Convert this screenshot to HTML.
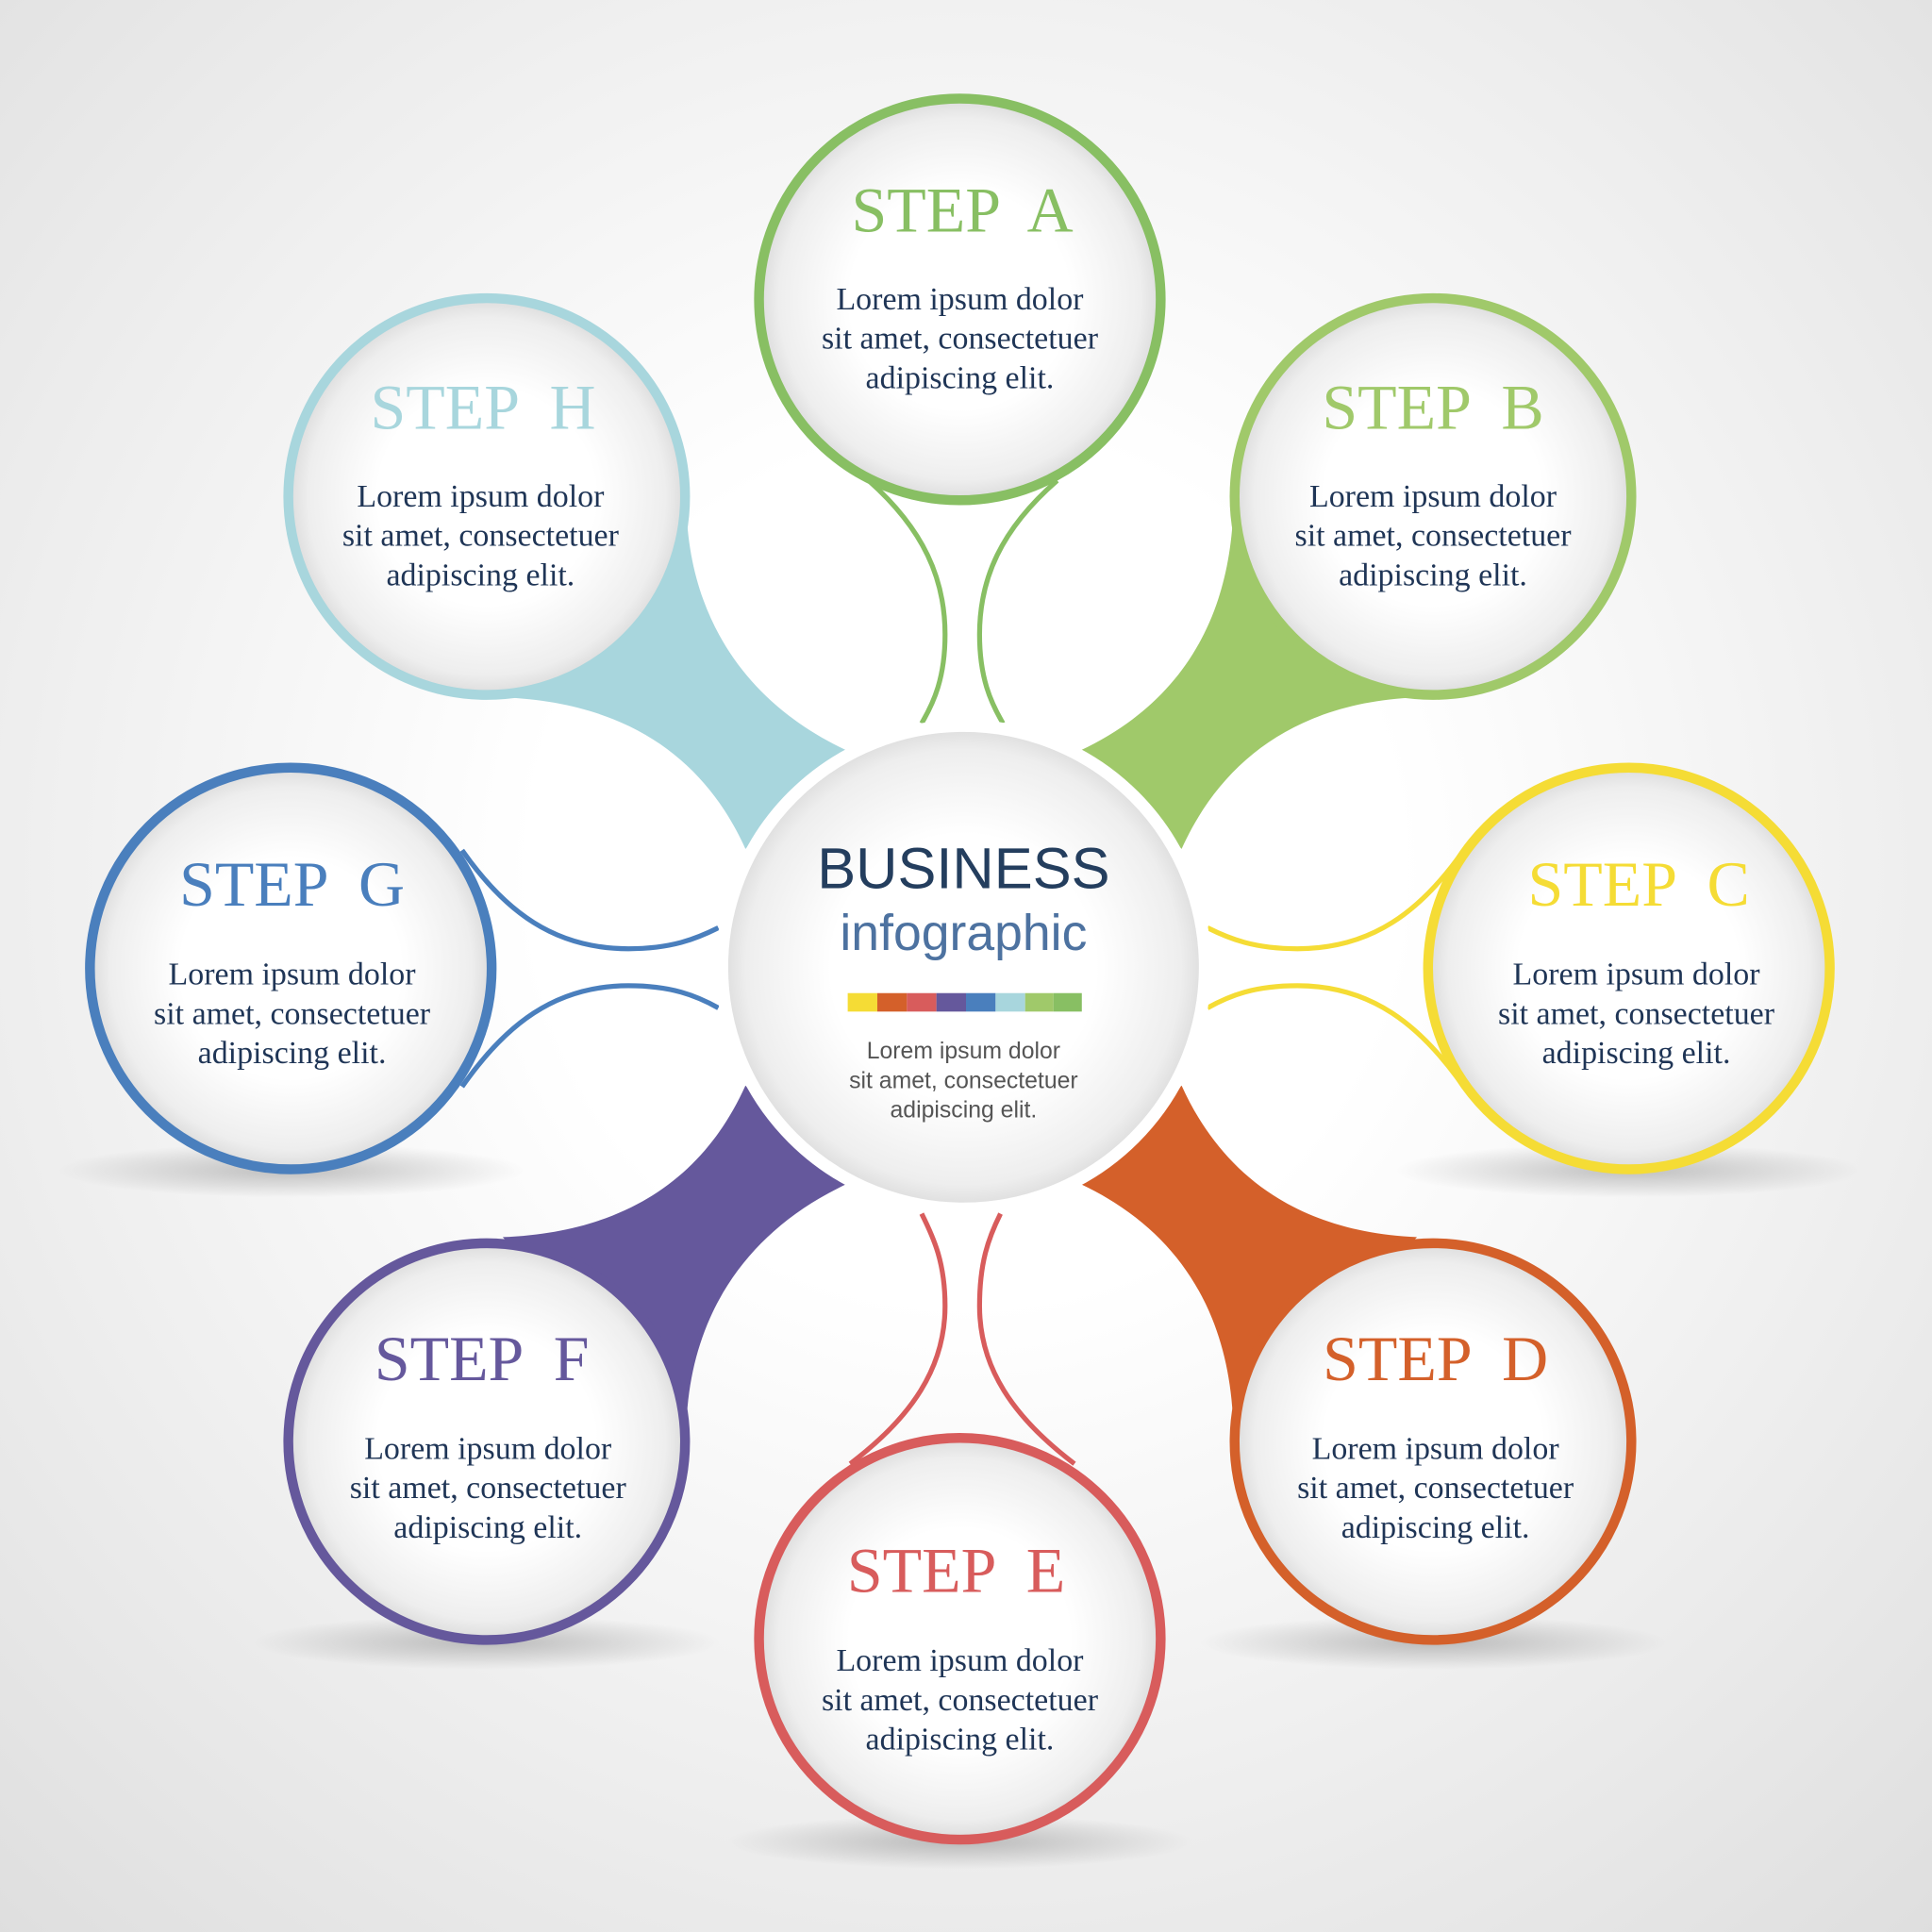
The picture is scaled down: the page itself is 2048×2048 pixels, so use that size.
<!DOCTYPE html>
<html><head><meta charset="utf-8"><style>
html,body{margin:0;padding:0;width:2048px;height:2048px;overflow:hidden}
svg{display:block}
.t{font-family:"Liberation Serif",serif;font-size:52px;text-anchor:middle;white-space:pre}
.b{font-family:"Liberation Serif",serif;font-size:26px;fill:#1f3556;text-anchor:middle}
</style></head><body>
<svg width="2048" height="2048" viewBox="0 0 1568 1568" xmlns="http://www.w3.org/2000/svg" xml:space="preserve">
<defs>
<radialGradient id="bg" cx="50%" cy="45%" r="75%"><stop offset="0.3" stop-color="#ffffff"/><stop offset="1" stop-color="#dedede"/></radialGradient>
<radialGradient id="cf" cx="50%" cy="50%" r="50%"><stop offset="0.55" stop-color="#ffffff"/><stop offset="0.9" stop-color="#eeeeee"/><stop offset="1" stop-color="#dcdcdc"/></radialGradient>
<radialGradient id="sh" cx="50%" cy="50%" r="50%"><stop offset="0" stop-color="#000" stop-opacity="0.22"/><stop offset="1" stop-color="#000" stop-opacity="0"/></radialGradient>
</defs>
<rect width="1568" height="1568" fill="url(#bg)"/>
<g fill="url(#sh)">
<ellipse cx="236" cy="950" rx="190" ry="22"/>
<ellipse cx="1322" cy="950" rx="190" ry="22"/>
<ellipse cx="395" cy="1333" rx="190" ry="22"/>
<ellipse cx="1163" cy="1333" rx="190" ry="22"/>
<ellipse cx="779" cy="1495" rx="190" ry="22"/>
</g>
<path d="M1001,410 C999,500 960,570 877,609 L959,689 C990,620 1050,570 1150,566 Z" fill="#a0c96a"/>
<path d="M557,410 C559,500 604,570 687,609 L605,689 C574,620 514,570 408,566 Z" fill="#a8d6dd"/>
<path d="M1001,1160 C999,1070 960,1000 877,961 L959,881 C990,950 1050,1000 1150,1004 Z" fill="#d4602a"/>
<path d="M557,1160 C559,1070 604,1000 687,961 L605,881 C574,950 514,1000 408,1004 Z" fill="#65589c"/>
<g fill="none" stroke-width="4">
<path d="M705,390 C750,430 767,470 767,515 C767,550 758,570 748,587" stroke="#88bf63"/>
<path d="M858,390 C812,430 795,470 795,515 C795,550 804,570 814,587" stroke="#88bf63"/>
<path d="M748,985 C758,1005 767,1025 767,1060 C767,1110 740,1150 690,1188" stroke="#d85c5c"/>
<path d="M812,985 C802,1005 795,1025 795,1060 C795,1110 822,1150 872,1188" stroke="#d85c5c"/>
<path d="M375,690 C410,740 450,770 510,770 C545,770 565,762 583,753" stroke="#4a7fbd"/>
<path d="M375,882 C410,832 450,800 510,800 C545,800 565,808 583,818" stroke="#4a7fbd"/>
<path d="M1188,690 C1153,740 1113,770 1053,770 C1018,770 998,762 980,753" stroke="#f5dc35"/>
<path d="M1188,882 C1153,832 1113,800 1053,800 C1018,800 998,808 980,818" stroke="#f5dc35"/>
</g>
<circle cx="782" cy="785" r="196" fill="url(#cf)" stroke="#ffffff" stroke-width="10"/>
<text x="782" y="721" font-family="Liberation Sans,sans-serif" font-size="47" fill="#243e5e" text-anchor="middle">BUSINESS</text>
<text x="782" y="771" font-family="Liberation Sans,sans-serif" font-size="41" fill="#4d72a0" text-anchor="middle">infographic</text>
<g>
<rect x="688" y="806" width="24" height="15" fill="#f5dc35"/>
<rect x="712" y="806" width="24" height="15" fill="#d4602a"/>
<rect x="736" y="806" width="24" height="15" fill="#d85c5c"/>
<rect x="760" y="806" width="24" height="15" fill="#65589c"/>
<rect x="784" y="806" width="24" height="15" fill="#4a7fbd"/>
<rect x="808" y="806" width="24" height="15" fill="#a8d6dd"/>
<rect x="832" y="806" width="23" height="15" fill="#a0c96a"/>
<rect x="855" y="806" width="23" height="15" fill="#88bf63"/>
</g>
<g font-family="Liberation Sans,sans-serif" font-size="19" fill="#555" text-anchor="middle">
<text x="782" y="859">Lorem ipsum dolor</text>
<text x="782" y="883">sit amet, consectetuer</text>
<text x="782" y="907">adipiscing elit.</text>
</g>
<g stroke-width="8">
<circle cx="779" cy="243" r="163" fill="url(#cf)" stroke="#88bf63"/>
<circle cx="1163" cy="403" r="161" fill="url(#cf)" stroke="#a0c96a"/>
<circle cx="1322" cy="786" r="163" fill="url(#cf)" stroke="#f5dc35"/>
<circle cx="1163" cy="1170" r="161" fill="url(#cf)" stroke="#d4602a"/>
<circle cx="779" cy="1330" r="163" fill="url(#cf)" stroke="#d85c5c"/>
<circle cx="395" cy="1170" r="161" fill="url(#cf)" stroke="#65589c"/>
<circle cx="236" cy="786" r="163" fill="url(#cf)" stroke="#4a7fbd"/>
<circle cx="395" cy="403" r="161" fill="url(#cf)" stroke="#a8d6dd"/>
</g>
<text class="t" x="781" y="188" fill="#88bf63">STEP  A</text>
<text class="t" x="1163" y="348" fill="#a0c96a">STEP  B</text>
<text class="t" x="1330" y="735" fill="#f5dc35">STEP  C</text>
<text class="t" x="1165" y="1120" fill="#d4602a">STEP  D</text>
<text class="t" x="776" y="1292" fill="#d85c5c">STEP  E</text>
<text class="t" x="391" y="1120" fill="#65589c">STEP  F</text>
<text class="t" x="237" y="735" fill="#4a7fbd">STEP  G</text>
<text class="t" x="392" y="348" fill="#a8d6dd">STEP  H</text>
<g>
<text class="b" x="779" y="251">Lorem ipsum dolor</text><text class="b" x="779" y="283">sit amet, consectetuer</text><text class="b" x="779" y="315">adipiscing elit.</text>
<text class="b" x="1163" y="411">Lorem ipsum dolor</text><text class="b" x="1163" y="443">sit amet, consectetuer</text><text class="b" x="1163" y="475">adipiscing elit.</text>
<text class="b" x="1328" y="799">Lorem ipsum dolor</text><text class="b" x="1328" y="831">sit amet, consectetuer</text><text class="b" x="1328" y="863">adipiscing elit.</text>
<text class="b" x="1165" y="1184">Lorem ipsum dolor</text><text class="b" x="1165" y="1216">sit amet, consectetuer</text><text class="b" x="1165" y="1248">adipiscing elit.</text>
<text class="b" x="779" y="1356">Lorem ipsum dolor</text><text class="b" x="779" y="1388">sit amet, consectetuer</text><text class="b" x="779" y="1420">adipiscing elit.</text>
<text class="b" x="396" y="1184">Lorem ipsum dolor</text><text class="b" x="396" y="1216">sit amet, consectetuer</text><text class="b" x="396" y="1248">adipiscing elit.</text>
<text class="b" x="237" y="799">Lorem ipsum dolor</text><text class="b" x="237" y="831">sit amet, consectetuer</text><text class="b" x="237" y="863">adipiscing elit.</text>
<text class="b" x="390" y="411">Lorem ipsum dolor</text><text class="b" x="390" y="443">sit amet, consectetuer</text><text class="b" x="390" y="475">adipiscing elit.</text>
</g>
</svg>
</body></html>
